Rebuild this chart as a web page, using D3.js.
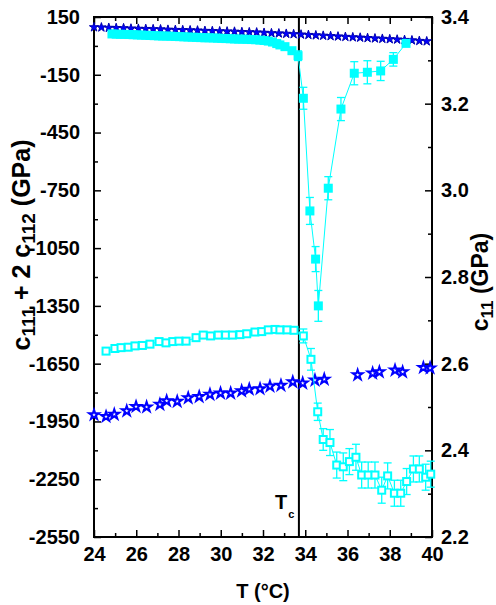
<!DOCTYPE html>
<html>
<head>
<meta charset="utf-8">
<script src="https://cdn.jsdelivr.net/npm/d3@7"></script>
<style>
  body { margin: 0; background: #fff; }
  text { font-family: "Liberation Sans", Arial, sans-serif; font-weight: bold; fill: #000; }
</style>
</head>
<body>
<svg id="chart" width="496" height="605"></svg>
<script>
// ---- data ----
// c111 + 2 c112 (left axis), reference sample, filled stars
const starTopT = [24.0, 24.35, 24.7, 25.05, 25.4, 25.75, 26.1, 26.45, 26.8, 27.15, 27.5, 27.85, 28.2, 28.55, 28.9, 29.25,
  29.6, 29.95, 30.3, 30.65, 31.0, 31.35, 31.7, 32.05, 32.4, 32.75, 33.1, 33.45, 33.8, 34.15, 34.5, 34.85, 35.2, 35.55,
  35.9, 36.25, 36.6, 36.95, 37.3, 37.65, 38.0, 38.35, 38.7, 39.05, 39.4, 39.75];
const starTopC = [97, 96, 94, 93, 92, 90, 89, 88, 87, 86, 84, 83, 82, 81, 80, 78,
  77, 76, 75, 74, 72, 71, 70, 68, 66, 65, 63, 61, 59, 57, 55, 53, 51, 49,
  47, 45, 43, 41, 39, 37, 35, 33, 31, 29, 26, 24];

// c111 + 2 c112 (left axis), filled squares with error bars
const sqFillT = [24.85, 25.05, 25.25, 25.45, 25.65, 25.85, 26.05, 26.25, 26.45, 26.65, 26.85, 27.05, 27.25, 27.45, 27.65,
  27.85, 28.05, 28.25, 28.45, 28.65, 28.85, 29.05, 29.25, 29.45, 29.65, 29.85, 30.05, 30.25, 30.45, 30.65, 30.85, 31.05,
  31.25, 31.45, 31.65, 31.85, 32.05, 32.25, 32.45, 32.65, 32.8, 33.04, 33.37, 33.66,
  33.91, 34.22, 34.49, 34.62, 35.09, 35.69, 36.32, 36.94, 37.57, 38.17, 38.77];
const sqFillC = [62, 61, 60, 60, 59, 58, 57, 56, 55, 54, 53, 52, 51, 51, 50,
  49, 48, 47, 46, 45, 44, 43, 42, 42, 41, 40, 39, 38, 37, 36, 35, 35,
  34, 33, 32, 30, 28, 25, 20, 12, 5, -4, -25, -51,
  -272, -857, -1107, -1350, -739, -328, -142, -137, -130, -70, 13];
const sqFillErr = [0, 0, 0, 0, 0, 0, 0, 0, 0, 0, 0, 0, 0, 0, 0,
  0, 0, 0, 0, 0, 0, 0, 0, 0, 0, 0, 0, 0, 0, 0, 0, 0,
  0, 0, 0, 0, 0, 0, 0, 0, 10, 12, 15, 25,
  57, 70, 65, 80, 60, 60, 60, 60, 50, 35, 0];

// c11 (right axis), reference sample, open stars
const starLowT = [24.0, 24.57, 24.96, 25.55, 25.99, 26.49, 27.12, 27.44, 27.94, 28.46, 28.98, 29.49, 29.99, 30.47,
  30.99, 31.35, 31.86, 32.33, 32.85, 33.41, 33.88, 34.46, 34.9, 36.48, 37.19, 37.51, 38.25, 38.61, 39.59, 39.91];
const starLowC = [2.482, 2.478, 2.483, 2.491, 2.501, 2.500, 2.506, 2.514, 2.513, 2.521, 2.524, 2.529, 2.532, 2.532,
  2.537, 2.541, 2.542, 2.548, 2.550, 2.558, 2.555, 2.562, 2.564, 2.574, 2.578, 2.581, 2.585, 2.581, 2.591, 2.590];

// c11 (right axis), open squares with error bars
const sqOpenT = [24.57, 24.99, 25.28, 25.62, 25.94, 26.29, 26.65, 27.08, 27.41, 27.73, 28.02, 28.36, 28.83, 29.17,
  29.52, 29.88, 30.23, 30.55, 30.91, 31.23, 31.62, 31.94, 32.25, 32.57, 32.8, 33.14, 33.47,
  33.91, 34.27, 34.59, 34.85, 35.17, 35.49, 35.8, 36.09, 36.4, 36.67, 36.98, 37.3, 37.62, 37.9, 38.22, 38.52,
  38.8, 39.12, 39.4, 39.7, 39.94];
const sqOpenC = [2.629, 2.635, 2.637, 2.638, 2.641, 2.642, 2.645, 2.651, 2.648, 2.651, 2.652, 2.652, 2.660, 2.666,
  2.664, 2.666, 2.666, 2.666, 2.667, 2.669, 2.673, 2.674, 2.678, 2.679, 2.678, 2.678, 2.677,
  2.664, 2.610, 2.489, 2.425, 2.418, 2.366, 2.362, 2.374, 2.384, 2.343, 2.343, 2.343, 2.308, 2.341, 2.301, 2.301,
  2.328, 2.357, 2.357, 2.338, 2.345];
const sqOpenErr = [0, 0, 0, 0, 0, 0, 0, 0, 0, 0, 0, 0, 0, 0,
  0, 0, 0, 0, 0, 0, 0, 0, 0, 0, 0, 0, 0,
  0.016, 0.025, 0.02, 0.025, 0.03, 0.03, 0.032, 0.03, 0.03, 0.03, 0.03, 0.03, 0.03, 0.03, 0.03, 0.03,
  0.03, 0.03, 0.03, 0.03, 0.03];

const transitionT = 33.7;

const xTicks = [24, 26, 28, 30, 32, 34, 36, 38, 40];
const xMinor = [25, 27, 29, 31, 33, 35, 37, 39];
const yLeftTicks = [-2550, -2250, -1950, -1650, -1350, -1050, -750, -450, -150, 150];
const yLeftMinor = [-2400, -2100, -1800, -1500, -1200, -900, -600, -300, 0];
const yRightTicks = [2.2, 2.4, 2.6, 2.8, 3.0, 3.2, 3.4];
const yRightMinor = [2.3, 2.5, 2.7, 2.9, 3.1, 3.3];

// ---- layout ----
const svg = d3.select("#chart");
const plotL = 94, plotR = 432, plotT = 17, plotB = 537;
const cyan = "#00ffff", blue = "#0000ff";

const x = d3.scaleLinear().domain([24, 40]).range([plotL, plotR]);
const yL = d3.scaleLinear().domain([-2550, 150]).range([plotB, plotT]);
const yR = d3.scaleLinear().domain([2.2, 3.4]).range([plotB, plotT]);

function styleAxis(g) {
  g.select(".domain").remove();
  g.selectAll(".tick line").attr("stroke", "#000").attr("stroke-width", 1.5);
  g.selectAll(".tick text").style("font-size", "20px").style("font-family", '"Liberation Sans", Arial, sans-serif')
    .style("font-weight", "bold").attr("fill", "#000");
}

// bottom axis
svg.append("g").attr("transform", `translate(0,${plotB})`)
  .call(d3.axisBottom(x).tickValues(xTicks).tickSizeInner(-7).tickSizeOuter(0).tickPadding(10).tickFormat(d => String(d)))
  .call(styleAxis);
svg.append("g").attr("transform", `translate(0,${plotB})`)
  .call(d3.axisBottom(x).tickValues(xMinor).tickSizeInner(-4).tickSizeOuter(0).tickFormat(""))
  .call(styleAxis);
// top axis
svg.append("g").attr("transform", `translate(0,${plotT})`)
  .call(d3.axisTop(x).tickValues(xTicks).tickSizeInner(-7).tickSizeOuter(0).tickFormat(""))
  .call(styleAxis);
svg.append("g").attr("transform", `translate(0,${plotT})`)
  .call(d3.axisTop(x).tickValues(xMinor).tickSizeInner(-4).tickSizeOuter(0).tickFormat(""))
  .call(styleAxis);
// left axis
svg.append("g").attr("transform", `translate(${plotL},0)`)
  .call(d3.axisLeft(yL).tickValues(yLeftTicks).tickSizeInner(-7).tickSizeOuter(0).tickPadding(14).tickFormat(d => String(d)))
  .call(styleAxis);
svg.append("g").attr("transform", `translate(${plotL},0)`)
  .call(d3.axisLeft(yL).tickValues(yLeftMinor).tickSizeInner(-4).tickSizeOuter(0).tickFormat(""))
  .call(styleAxis);
// right axis
svg.append("g").attr("transform", `translate(${plotR},0)`)
  .call(d3.axisRight(yR).tickValues(yRightTicks).tickSizeInner(-7).tickSizeOuter(0).tickPadding(9).tickFormat(d => d.toFixed(1)))
  .call(styleAxis);
svg.append("g").attr("transform", `translate(${plotR},0)`)
  .call(d3.axisRight(yR).tickValues(yRightMinor).tickSizeInner(-4).tickSizeOuter(0).tickFormat(""))
  .call(styleAxis);

// frame
svg.append("rect").attr("x", plotL).attr("y", plotT).attr("width", plotR - plotL).attr("height", plotB - plotT)
  .attr("fill", "none").attr("stroke", "#000").attr("stroke-width", 2);

// transition line
svg.append("line").attr("x1", x(transitionT)).attr("x2", x(transitionT)).attr("y1", plotT).attr("y2", plotB)
  .attr("stroke", "#000").attr("stroke-width", 2);

const plot = svg.append("g");

// star series
const starTop = d3.symbol().type(d3.symbolStar).size(26);
plot.append("g").selectAll("path").data(starTopT.map((t, i) => [t, starTopC[i]])).join("path")
  .attr("transform", d => `translate(${x(d[0])},${yL(d[1])})`)
  .attr("d", starTop).attr("fill", blue).attr("stroke", "#0000b0").attr("stroke-width", 1);

const starLow = d3.symbol().type(d3.symbolStar).size(30);
plot.append("g").selectAll("path").data(starLowT.map((t, i) => [t, starLowC[i]])).join("path")
  .attr("transform", d => `translate(${x(d[0])},${yR(d[1])})`)
  .attr("d", starLow).attr("fill", "#fff").attr("stroke", blue).attr("stroke-width", 2);

// error bars helper
function errorBars(g, ts, vs, es, y) {
  const pts = ts.map((t, i) => ({ t, v: vs[i], e: es[i] })).filter(d => d.e > 0);
  const eg = g.append("g").attr("stroke", cyan).attr("stroke-width", 1.3);
  eg.selectAll("line.v").data(pts).join("line").attr("class", "v")
    .attr("x1", d => x(d.t)).attr("x2", d => x(d.t)).attr("y1", d => y(d.v - d.e)).attr("y2", d => y(d.v + d.e));
  eg.selectAll("line.lo").data(pts).join("line").attr("class", "lo")
    .attr("x1", d => x(d.t) - 4).attr("x2", d => x(d.t) + 4).attr("y1", d => y(d.v - d.e)).attr("y2", d => y(d.v - d.e));
  eg.selectAll("line.hi").data(pts).join("line").attr("class", "hi")
    .attr("x1", d => x(d.t) - 4).attr("x2", d => x(d.t) + 4).attr("y1", d => y(d.v + d.e)).attr("y2", d => y(d.v + d.e));
}

// open squares (c11)
errorBars(plot, sqOpenT, sqOpenC, sqOpenErr, yR);
plot.append("path").datum(sqOpenT.map((t, i) => [t, sqOpenC[i]]))
  .attr("d", d3.line().x(d => x(d[0])).y(d => yR(d[1])))
  .attr("fill", "none").attr("stroke", cyan).attr("stroke-width", 1);
plot.append("g").selectAll("rect").data(sqOpenT.map((t, i) => [t, sqOpenC[i]])).join("rect")
  .attr("x", d => x(d[0]) - 3.5).attr("y", d => yR(d[1]) - 3.5).attr("width", 7).attr("height", 7)
  .attr("fill", "#fff").attr("stroke", cyan).attr("stroke-width", 2);

// filled squares (c111 + 2 c112)
errorBars(plot, sqFillT, sqFillC, sqFillErr, yL);
plot.append("path").datum(sqFillT.map((t, i) => [t, sqFillC[i]]))
  .attr("d", d3.line().x(d => x(d[0])).y(d => yL(d[1])))
  .attr("fill", "none").attr("stroke", cyan).attr("stroke-width", 1);
plot.append("g").selectAll("rect").data(sqFillT.map((t, i) => [t, sqFillC[i]])).join("rect")
  .attr("x", d => x(d[0]) - 4.5).attr("y", d => yL(d[1]) - 4.5).attr("width", 9).attr("height", 9)
  .attr("fill", cyan);

// T_c label
const tc = svg.append("text").attr("x", 275).attr("y", 509).style("font-size", "20px");
tc.append("tspan").text("T");
tc.append("tspan").attr("dy", 9).attr("dx", 1).style("font-size", "11px").text("c");

// axis titles
svg.append("text").attr("x", (plotL + plotR) / 2).attr("y", 598).attr("text-anchor", "middle")
  .style("font-size", "20px").text("T (°C)");

const lt = svg.append("text").attr("transform", "translate(30,245) rotate(-90)").attr("text-anchor", "middle")
  .style("font-size", "25px");
lt.append("tspan").text("c");
lt.append("tspan").attr("dy", 5).style("font-size", "19px").text("111");
lt.append("tspan").attr("dy", -5).text(" + 2 c");
lt.append("tspan").attr("dy", 5).style("font-size", "19px").text("112");
lt.append("tspan").attr("dy", -5).text(" (GPa)");

const rt = svg.append("text").attr("transform", "translate(488,282) rotate(-90)").attr("text-anchor", "middle")
  .style("font-size", "23px");
rt.append("tspan").text("c");
rt.append("tspan").attr("dy", 5).style("font-size", "17px").text("11");
rt.append("tspan").attr("dy", -5).text(" (GPa)");
</script>
</body>
</html>
